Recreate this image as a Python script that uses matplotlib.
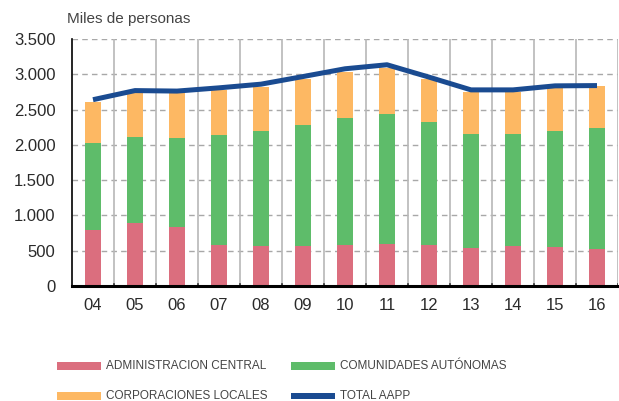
import numpy as np
import matplotlib
matplotlib.use('Agg')
import matplotlib.pyplot as plt
from matplotlib.patches import Rectangle

# datos (miles de personas)
years = ['04', '05', '06', '07', '08', '09', '10', '11', '12', '13', '14', '15', '16']
adm_central = [787, 891, 834, 574, 563, 563, 588, 602, 583, 545, 563, 555, 531]
ccaa = [1242, 1224, 1267, 1569, 1637, 1714, 1793, 1836, 1745, 1613, 1595, 1645, 1712]
cclls = [583, 617, 631, 636, 626, 659, 655, 655, 608, 597, 592, 603, 593]
total = [2640, 2769, 2762, 2808, 2860, 2968, 3078, 3135, 2960, 2779, 2779, 2836, 2840]
yticks = [0, 500, 1000, 1500, 2000, 2500, 3000, 3500]
ytick_labels = ['0', '500', '1.000', '1.500', '2.000', '2.500', '3.000', '3.500']
legend_labels = ['ADMINISTRACION CENTRAL', 'COMUNIDADES AUTÓNOMAS',
                 'CORPORACIONES LOCALES', 'TOTAL AAPP']

c_red = '#db6e7e'
c_green = '#5ebc6a'
c_orange = '#fdb863'
c_blue = '#1a4b91'
txt = '#2a2a2a'

plt.rcParams['font.family'] = ['Liberation Sans', 'DejaVu Sans']

fig = plt.figure(figsize=(6.19, 4.01), dpi=100)
ax = fig.add_axes([72/619, 115/401, 546/619, 247/401])

x = np.arange(len(years))
bw = 0.4
b1 = np.array(adm_central)
b2 = b1 + np.array(ccaa)
ax.bar(x, adm_central, bw, color=c_red, zorder=3)
ax.bar(x, ccaa, bw, bottom=b1, color=c_green, zorder=3)
ax.bar(x, cclls, bw, bottom=b2, color=c_orange, zorder=3)
ax.plot(x, total, color=c_blue, lw=3.6, zorder=4, solid_capstyle='butt')

ax.set_xlim(-0.5, len(years) - 0.5)
ax.set_ylim(0, 3500)
ax.set_yticks(yticks)
ax.set_yticklabels(ytick_labels)
ax.set_xticks(x)
ax.set_xticklabels(years)
ax.tick_params(axis='both', length=0, labelsize=12, colors=txt)
ax.tick_params(axis='y', pad=12)
ax.tick_params(axis='x', pad=9)

# rejilla
for yv in yticks[1:]:
    ax.axhline(yv, color='#a8a8a8', lw=1, ls=(0, (4, 3)), zorder=1)
for xv in np.arange(0.5, len(years), 1.0):
    ax.axvline(xv, color='#b8b8b8', lw=1.2, zorder=1)
    ax.plot([xv, xv], [0, 35], color='#333333', lw=1.2, zorder=2)

for s in ['top', 'right']:
    ax.spines[s].set_visible(False)
ax.spines['left'].set_linewidth(1.2)
ax.spines['bottom'].set_linewidth(2.2)
ax.spines['bottom'].set_zorder(5)

fig.text(67/619, 1 - 19/401, 'Miles de personas', fontsize=11, color='#444444',
         va='center', ha='left')

# leyenda manual
pos = [(57, 366), (291, 366), (57, 396), (291, 396)]
cols = [c_red, c_green, c_orange, c_blue]
for (px, py), col, lab in zip(pos, cols, legend_labels):
    h = 8 if col != c_blue else 6
    fig.patches.append(Rectangle((px/619, 1 - (py + h/2)/401), 44/619, h/401,
                                 transform=fig.transFigure, color=col, lw=0))
    fig.text((px + 49)/619, 1 - py/401, lab, fontsize=8.5, color='#444444',
             va='center', ha='left')

fig.savefig('out.png', dpi=100)
